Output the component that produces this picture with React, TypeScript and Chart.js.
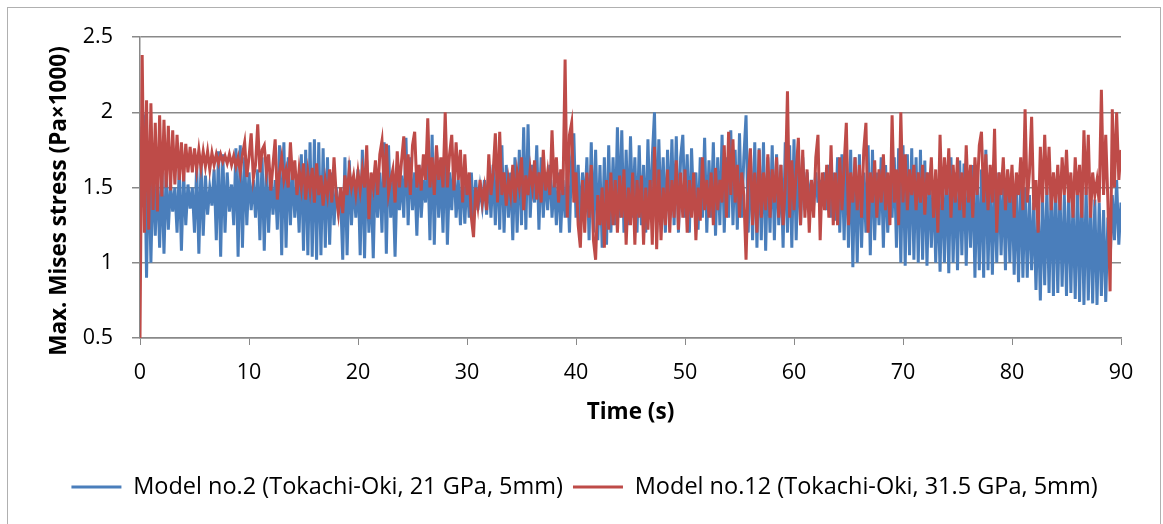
import React, { useEffect, useRef } from 'react';
import { Chart, registerables } from 'chart.js';

Chart.register(...registerables);

// Sampling interval of both series (s)
const timeStep = 0.2;

// Model no.2 (blue) — 0 s … 90 s every 0.2 s, each row = 2 s
const blueSeries = [
  1.2, 1.9, 1.95, 0.9, 1.75, 1.0, 1.65, 1.18, 1.6, 1.1,
  1.62, 1.06, 1.6, 1.22, 1.52, 1.34, 1.5, 1.2, 1.62, 1.08,
  1.6, 1.25, 1.52, 1.36, 1.5, 1.2, 1.64, 1.06, 1.66, 1.18,
  1.58, 1.32, 1.5, 1.38, 1.62, 1.15, 1.74, 1.04, 1.72, 1.2,
  1.6, 1.34, 1.52, 1.25, 1.76, 1.04, 1.78, 1.1, 1.7, 1.25,
  1.6, 1.35, 1.55, 1.3, 1.62, 1.15, 1.7, 1.08, 1.66, 1.2,
  1.58, 1.32, 1.55, 1.22, 1.78, 1.05, 1.8, 1.1, 1.7, 1.25,
  1.62, 1.3, 1.55, 1.2, 1.72, 1.08, 1.75, 1.05, 1.8, 1.04,
  1.82, 1.02, 1.8, 1.05, 1.76, 1.1, 1.7, 1.12, 1.6, 1.25,
  1.5, 1.35, 1.45, 1.02, 1.7, 1.05, 1.68, 1.25, 1.55, 1.3,
  1.62, 1.05, 1.75, 1.03, 1.68, 1.2, 1.55, 1.03, 1.65, 1.3,
  1.6, 1.2, 1.8, 1.06, 1.78, 1.3, 1.55, 1.04, 1.6, 1.35,
  1.58, 1.3, 1.83, 1.25, 1.7, 1.35, 1.6, 1.18, 1.65, 1.3,
  1.55, 1.4, 1.7, 1.15, 1.85, 1.12, 1.75, 1.3, 1.6, 1.2,
  1.82, 1.12, 1.6, 1.35, 1.7, 1.3, 1.55, 1.25, 1.62, 1.26,
  1.58, 1.3, 1.6, 1.28, 1.55, 1.35, 1.5, 1.38, 1.55, 1.32,
  1.6, 1.3, 1.65, 1.25, 1.7, 1.22, 1.78, 1.2, 1.65, 1.3,
  1.6, 1.15, 1.7, 1.2, 1.75, 1.25, 1.9, 1.22, 1.92, 1.3,
  1.65, 1.4, 1.78, 1.22, 1.7, 1.3, 1.6, 1.35, 1.65, 1.3,
  1.55, 1.25, 1.6, 1.2, 1.55, 1.3, 1.6, 1.2, 1.7, 1.86,
  1.3, 1.65, 1.25, 1.6, 1.35, 1.7, 1.15, 1.8, 1.2, 1.75,
  1.15, 1.65, 1.1, 1.7, 1.12, 1.78, 1.2, 1.7, 1.25, 1.9,
  1.3, 1.88, 1.2, 1.75, 1.25, 1.84, 1.3, 1.7, 1.2, 1.78,
  1.25, 1.65, 1.2, 1.82, 1.3, 1.7, 2.0, 1.2, 1.82, 1.3,
  1.7, 1.2, 1.75, 1.3, 1.82, 1.25, 1.84, 1.2, 1.7, 1.85,
  1.3, 1.72, 1.2, 1.76, 1.35, 1.6, 1.22, 1.7, 1.3, 1.83,
  1.2, 1.68, 1.3, 1.8, 1.18, 1.7, 1.25, 1.85, 1.2, 1.7,
  1.3, 1.88, 1.25, 1.75, 1.22, 1.86, 1.3, 1.7, 1.98, 1.2,
  1.75, 1.15, 1.8, 1.1, 1.76, 1.15, 1.8, 1.08, 1.7, 1.2,
  1.78, 1.15, 1.72, 1.25, 1.65, 1.1, 1.8, 1.2, 1.78, 1.1,
  1.82, 1.15, 1.75, 1.25, 1.7, 1.35, 1.6, 1.4, 1.55, 1.38,
  1.6, 1.4, 1.55, 1.38, 1.6, 1.35, 1.65, 1.3, 1.6, 1.28,
  1.7, 1.2, 1.72, 1.15, 1.76, 1.1, 1.75, 0.97, 1.7, 1.0,
  1.72, 1.1, 1.6, 1.2, 1.78, 1.05, 1.75, 1.15, 1.6, 1.25,
  1.7, 1.1, 1.65, 1.2, 1.55, 1.3, 1.7, 1.1, 1.76, 1.0,
  1.78, 0.98, 1.72, 1.05, 1.76, 1.02, 1.7, 1.0, 1.75, 1.02,
  1.68, 0.98, 1.6, 1.1, 1.55, 1.0, 1.5, 0.94, 1.6, 1.0,
  1.65, 0.93, 1.7, 1.0, 1.6, 0.95, 1.68, 1.05, 1.66, 0.98,
  1.6, 1.1, 1.65, 0.9, 1.58, 0.95, 1.62, 0.9, 1.75, 0.95,
  1.6, 0.92, 1.55, 1.0, 1.6, 1.05, 1.55, 0.95, 1.6, 1.0,
  1.55, 0.92, 1.5, 0.87, 1.6, 0.9, 1.5, 0.9, 1.45, 0.95,
  1.4, 0.82, 1.38, 0.75, 1.45, 0.85, 1.5, 0.8, 1.52, 0.78,
  1.55, 0.8, 1.48, 0.84, 1.45, 0.78, 1.5, 0.8, 1.42, 0.76,
  1.5, 0.74, 1.52, 0.72, 1.5, 0.75, 1.45, 0.73, 1.42, 0.72,
  1.4, 0.78, 1.35, 0.74, 1.3, 1.0, 1.45, 1.15, 1.55, 1.12,
  1.4,
];

// Model no.12 (red) — 0 s … 90 s every 0.2 s, each row = 2 s
const redSeries = [
  0.5, 2.38, 1.2, 2.08, 1.22, 2.06, 1.35, 1.93, 1.34, 1.98,
  1.44, 1.95, 1.5, 1.91, 1.48, 1.88, 1.52, 1.85, 1.55, 1.8,
  1.54, 1.79, 1.6, 1.77, 1.6, 1.76, 1.62, 1.75, 1.63, 1.74,
  1.64, 1.74, 1.62, 1.73, 1.65, 1.72, 1.66, 1.72, 1.67, 1.71,
  1.66, 1.72, 1.65, 1.71, 1.64, 1.7, 1.6, 1.72, 1.8, 1.57,
  1.7, 1.86, 1.56, 1.65, 1.92, 1.6, 1.75, 1.78, 1.6, 1.72,
  1.48, 1.65, 1.82, 1.42, 1.6, 1.7, 1.55, 1.62, 1.5, 1.8,
  1.55, 1.68, 1.45, 1.62, 1.5, 1.66, 1.42, 1.6, 1.48, 1.63,
  1.4, 1.66, 1.45, 1.58, 1.38, 1.55, 1.45, 1.62, 1.4, 1.7,
  1.45, 1.33, 1.5, 1.33, 1.58, 1.45, 1.62, 1.5, 1.58, 1.46,
  1.6, 1.48, 1.62, 1.5, 1.78, 1.29, 1.6, 1.5, 1.68, 1.45,
  1.72, 1.81, 1.5, 1.79, 1.46, 1.55, 1.62, 1.4, 1.74, 1.5,
  1.68, 1.84, 1.5, 1.72, 1.45, 1.78, 1.87, 1.5, 1.65, 1.48,
  1.72, 1.55, 1.96, 1.5, 1.7, 1.45, 1.78, 1.55, 1.7, 1.5,
  2.0, 1.5, 1.72, 1.85, 1.48, 1.8, 1.55, 1.75, 1.4, 1.72,
  1.45, 1.6, 1.3, 1.17, 1.5, 1.38, 1.55, 1.4, 1.5, 1.35,
  1.72, 1.45, 1.6, 1.86, 1.4, 1.87, 1.45, 1.6, 1.38, 1.55,
  1.45, 1.65, 1.4, 1.6, 1.5, 1.7, 1.35, 1.58, 1.45, 1.62,
  1.5, 1.68, 1.42, 1.6, 1.4, 1.75, 1.48, 1.6, 1.45, 1.88,
  1.5, 1.7, 1.4, 1.62, 1.45, 2.35, 1.3, 1.85, 1.93, 1.4,
  1.6, 1.25, 1.1, 1.55, 1.2, 1.6, 1.3, 1.65, 1.15, 1.02,
  1.45, 1.25, 1.5, 1.1, 1.55, 1.22, 1.6, 1.25, 1.55, 1.2,
  1.58, 1.3, 1.62, 1.12, 1.5, 1.25, 1.6, 1.12, 1.55, 1.3,
  1.58, 1.12, 1.5, 1.22, 1.55, 1.12, 1.77, 1.09, 1.62, 1.15,
  1.5, 1.25, 1.62, 1.2, 1.55, 1.3, 1.68, 1.22, 1.6, 1.3,
  1.62, 1.2, 1.55, 1.3, 1.6, 1.15, 1.5, 1.28, 1.7, 1.35,
  1.55, 1.3, 1.6, 1.25, 1.63, 1.35, 1.55, 1.4, 1.78, 1.3,
  1.87, 1.45, 1.82, 1.4, 1.65, 1.3, 1.6, 1.45, 1.02, 1.55,
  1.76, 1.25, 1.6, 1.2, 1.75, 1.3, 1.6, 1.35, 1.72, 1.3,
  1.62, 1.4, 1.7, 1.3, 1.65, 1.25, 1.5, 2.14, 1.3, 1.68,
  1.35, 1.6, 1.83, 1.25, 1.75, 1.3, 1.62, 1.2, 1.55, 1.3,
  1.7, 1.85, 1.15, 1.6, 1.35, 1.65, 1.3, 1.78, 1.25, 1.6,
  1.25, 1.7, 1.35, 1.65, 1.93, 1.25, 1.6, 1.4, 1.7, 1.35,
  1.65, 1.3, 1.75, 1.93, 1.2, 1.6, 1.4, 1.68, 1.3, 1.62,
  1.4, 1.72, 1.35, 1.6, 1.25, 1.98, 1.4, 1.62, 1.25, 2.0,
  1.4, 1.72, 1.35, 1.62, 1.45, 1.65, 1.35, 1.6, 1.4, 1.65,
  1.32, 1.6, 1.45, 1.7, 1.3, 1.62, 1.2, 1.85, 1.35, 1.7,
  1.45, 1.76, 1.3, 1.65, 1.4, 1.7, 1.35, 1.6, 1.3, 1.78,
  1.4, 1.65, 1.3, 1.7, 1.45, 1.78, 1.87, 1.4, 1.72, 1.35,
  1.65, 1.4, 1.89, 1.2, 1.6, 1.45, 1.7, 1.35, 1.62, 1.4,
  1.65, 1.3, 1.6, 1.45, 1.7, 1.35, 2.02, 1.4, 1.6, 1.97,
  1.35, 1.55, 1.2, 1.77, 1.4, 1.85, 1.45, 1.77, 1.35, 1.6,
  1.4, 1.65, 1.35, 1.7, 1.45, 1.75, 1.4, 1.6, 1.3, 1.7,
  1.45, 1.65, 1.3, 1.88, 1.45, 1.85, 1.3, 1.6, 1.45, 1.55,
  1.4, 2.15, 1.45, 1.85, 1.4, 0.81, 2.02, 1.5, 2.0, 1.55,
  1.75,
];

const seriesNames = [
  'Model no.2 (Tokachi-Oki, 21 GPa, 5mm)',
  'Model no.12 (Tokachi-Oki, 31.5 GPa, 5mm)',
];
const seriesColors = ['#4A7EBB', '#BE4B48'];
const xTickLabels = ['0', '10', '20', '30', '40', '50', '60', '70', '80', '90'];
const yTickLabels = ['0.5', '1', '1.5', '2', '2.5'];
const xTitle = 'Time (s)';
const yTitle = 'Max. Mises stress (Pa×1000)';

const FONT = '"Open Sans"';

const yTitlePlugin = {
  id: 'yTitleExcel',
  afterDraw(chart: any) {
    const { ctx } = chart;
    ctx.save();
    ctx.translate(60, 201);
    ctx.rotate(-Math.PI / 2);
    ctx.font = `bold 22.5px ${FONT}`;
    ctx.fillStyle = '#000000';
    ctx.textAlign = 'center';
    ctx.textBaseline = 'middle';
    ctx.fillText(yTitle, 0, 0);
    ctx.restore();
  },
};

// The legend of the reference sits a little right of the canvas centre
const legendShiftPlugin = {
  id: 'legendShift',
  afterLayout(chart: any) {
    const lg = chart.legend;
    if (lg) {
      lg.left += 24;
      lg.right += 24;
    }
  },
};

export default function App() {
  const canvasRef = useRef<HTMLCanvasElement | null>(null);

  useEffect(() => {
    if (!canvasRef.current) return;
    const toPoints = (arr: number[]) => arr.map((v, i) => ({ x: i * timeStep, y: v }));
    const chart = new Chart(canvasRef.current, {
      type: 'line',
      data: {
        datasets: [
          {
            label: seriesNames[0],
            data: toPoints(blueSeries),
            borderColor: seriesColors[0],
            backgroundColor: seriesColors[0],
            borderWidth: 3,
            pointRadius: 0,
            tension: 0,
            order: 2,
          },
          {
            label: seriesNames[1],
            data: toPoints(redSeries),
            borderColor: seriesColors[1],
            backgroundColor: seriesColors[1],
            borderWidth: 3,
            pointRadius: 0,
            tension: 0,
            order: 1,
          },
        ],
      },
      options: {
        responsive: false,
        animation: false,
        events: [],
        layout: { padding: { left: 0, right: 42, top: 37, bottom: 15.25 } },
        font: { family: FONT },
        scales: {
          x: {
            type: 'linear',
            min: 0,
            max: 90,
            ticks: {
              stepSize: 10,
              padding: 15,
              color: '#000000',
              font: { family: FONT, size: 21.5 },
              maxRotation: 0,
              callback: (v: any) => xTickLabels[Math.round(Number(v) / 10)] ?? '',
            },
            grid: {
              drawOnChartArea: false,
              drawTicks: true,
              tickLength: 7,
              color: '#898989',
            },
            border: { display: true, color: '#898989', width: 1.5 },
            title: {
              display: true,
              text: xTitle,
              color: '#000000',
              font: { family: FONT, size: 22.5, weight: 'bold' },
              padding: { top: 0, bottom: 38.75 },
            },
            afterFit: (scale: any) => {
              scale.height = 127.25;
            },
          },
          y: {
            type: 'linear',
            min: 0.5,
            max: 2.5,
            ticks: {
              stepSize: 0.5,
              padding: 19,
              color: '#000000',
              font: { family: FONT, size: 21.5 },
              callback: (v: any) => yTickLabels[Math.round((Number(v) - 0.5) / 0.5)] ?? '',
            },
            grid: {
              drawTicks: true,
              tickLength: 8,
              color: '#898989',
              lineWidth: 1.5,
            },
            border: { display: true, color: '#898989', width: 1.5 },
            afterFit: (scale: any) => {
              scale.width = 140;
            },
          },
        },
        plugins: {
          legend: {
            position: 'bottom',
            labels: {
              boxWidth: 50,
              boxHeight: 3,
              padding: 10,
              color: '#000000',
              font: { family: FONT, size: 23.5 },
              generateLabels: (chart: any) => {
                const items = Chart.defaults.plugins.legend.labels.generateLabels(chart);
                return items
                  .map((it: any) => ({ ...it, lineWidth: 0, fillStyle: it.strokeStyle }))
                  .sort((a: any, b: any) => a.datasetIndex - b.datasetIndex);
              },
            },
          },
          tooltip: { enabled: false },
        },
      } as any,
      plugins: [yTitlePlugin, legendShiftPlugin],
    });
    return () => chart.destroy();
  }, []);

  return (
    <div
      style={{
        position: 'fixed',
        left: 0,
        top: 0,
        width: 1163,
        height: 524,
        overflow: 'hidden',
        background: '#ffffff',
      }}
    >
      <canvas ref={canvasRef} width={1163} height={524} style={{ display: 'block' }} />
      <div
        style={{
          position: 'absolute',
          left: 7,
          top: 7,
          width: 1152,
          height: 560,
          border: '1px solid #b0b0b0',
          pointerEvents: 'none',
        }}
      />
    </div>
  );
}
